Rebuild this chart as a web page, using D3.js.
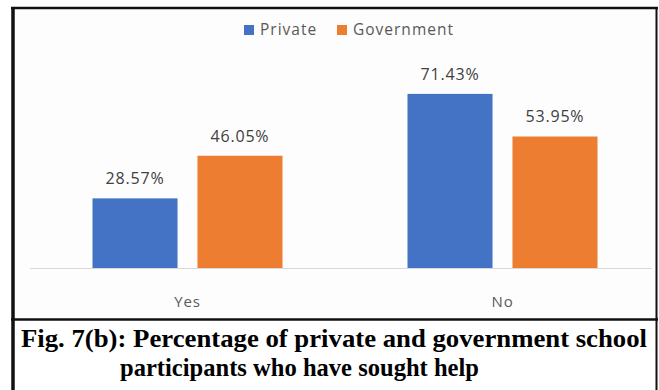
<!DOCTYPE html>
<html><head><meta charset="utf-8">
<script src="https://cdn.jsdelivr.net/npm/d3@7"></script>
<style>html,body{margin:0;padding:0;background:#fff;}svg{display:block;}</style>
</head><body>
<svg id="c" width="659" height="390"></svg>
<script>
const categories = ["Yes", "No"];
const seriesNames = ["Private", "Government"];
const privateValues = [28.57, 71.43];
const governmentValues = [46.05, 53.95];
const seriesColors = ["#4472C4", "#ED7D31"];
const captionLines = ["Fig. 7(b): Percentage of private and government school", "participants who have sought help"];

const data = categories.map((c, i) => ({cat: c, vals: [privateValues[i], governmentValues[i]]}));
const svg = d3.select("#c");
const FONT = "'Open Sans', Lato, sans-serif";

// chart area background
svg.append("rect").attr("x", 13).attr("y", 8).attr("width", 643).attr("height", 311).attr("fill", "#fdfdfd");

const x0 = d3.scaleBand().domain(categories).range([30, 660]).paddingInner(0).paddingOuter(0);
const x1 = d3.scaleBand().domain(seriesNames).range([62.5, 252.5]).paddingInner(0.19);
const y = d3.scaleLinear().domain([0, 80]).range([268, 73]);

// baseline
svg.append("line").attr("x1", 30).attr("x2", 652).attr("y1", y(0)+0.5).attr("y2", y(0)+0.5)
  .attr("stroke", "#d9d9d9").attr("stroke-width", 1);

const g = svg.selectAll("g.cat").data(data).enter().append("g").attr("class", "cat")
  .attr("transform", d => `translate(${x0(d.cat)},0)`);
g.selectAll("rect").data(d => d.vals.map((v, j) => ({v, s: seriesNames[j], j}))).enter().append("rect")
  .attr("x", d => x1(d.s)).attr("width", x1.bandwidth())
  .attr("y", d => y(d.v)).attr("height", d => y(0) - y(d.v))
  .attr("fill", d => seriesColors[d.j]);
g.selectAll("text.v").data(d => d.vals.map((v, j) => ({v, s: seriesNames[j], j}))).enter().append("text")
  .attr("class", "v")
  .attr("x", d => x1(d.s) + x1.bandwidth()/2).attr("y", d => y(d.v) - 14)
  .attr("text-anchor", "middle").attr("font-family", FONT).attr("font-size", 16)
  .attr("letter-spacing", 0.8)
  .attr("fill", "#404040").text(d => d.v.toFixed(2) + "%");

// category labels
svg.selectAll("text.cat").data(categories).enter().append("text").attr("class", "cat")
  .attr("x", d => x0(d) + x0.bandwidth()/2).attr("y", 307)
  .attr("text-anchor", "middle").attr("font-family", FONT).attr("font-size", 15)
  .attr("letter-spacing", 0.8)
  .attr("fill", "#595959").text(d => d);

// legend
const legX = [244, 337];
const lg = svg.selectAll("g.leg").data(seriesNames).enter().append("g").attr("class", "leg")
  .attr("transform", (d, i) => `translate(${legX[i]},25)`);
lg.append("rect").attr("width", 10).attr("height", 10).attr("fill", (d, i) => seriesColors[i]);
lg.append("text").attr("x", 16).attr("y", 10).attr("font-family", FONT)
  .attr("font-size", 15.5).attr("letter-spacing", 1).attr("fill", "#595959").text(d => d);

// borders
svg.append("line").attr("x1", 11).attr("x2", 658).attr("y1", 8).attr("y2", 8).attr("stroke", "#111").attr("stroke-width", 2.5);
svg.append("line").attr("x1", 13).attr("x2", 13).attr("y1", 7).attr("y2", 390).attr("stroke", "#111").attr("stroke-width", 3.5);
svg.append("line").attr("x1", 656.5).attr("x2", 656.5).attr("y1", 7).attr("y2", 390).attr("stroke", "#111").attr("stroke-width", 2);
svg.append("line").attr("x1", 11).attr("x2", 658).attr("y1", 319.5).attr("y2", 319.5).attr("stroke", "#111").attr("stroke-width", 2.5);

// caption
const capX = [[21, 647], [120, 479]];
const capY = [347, 376];
svg.selectAll("text.cap").data(captionLines).enter().append("text").attr("class", "cap")
  .attr("x", (d, i) => capX[i][0]).attr("y", (d, i) => capY[i])
  .attr("textLength", (d, i) => capX[i][1] - capX[i][0]).attr("lengthAdjust", "spacingAndGlyphs")
  .attr("font-family", "'Liberation Serif', 'Times New Roman', serif").attr("font-weight", "bold")
  .attr("font-size", 26).attr("fill", "#000").text(d => d);
</script>
</body></html>
